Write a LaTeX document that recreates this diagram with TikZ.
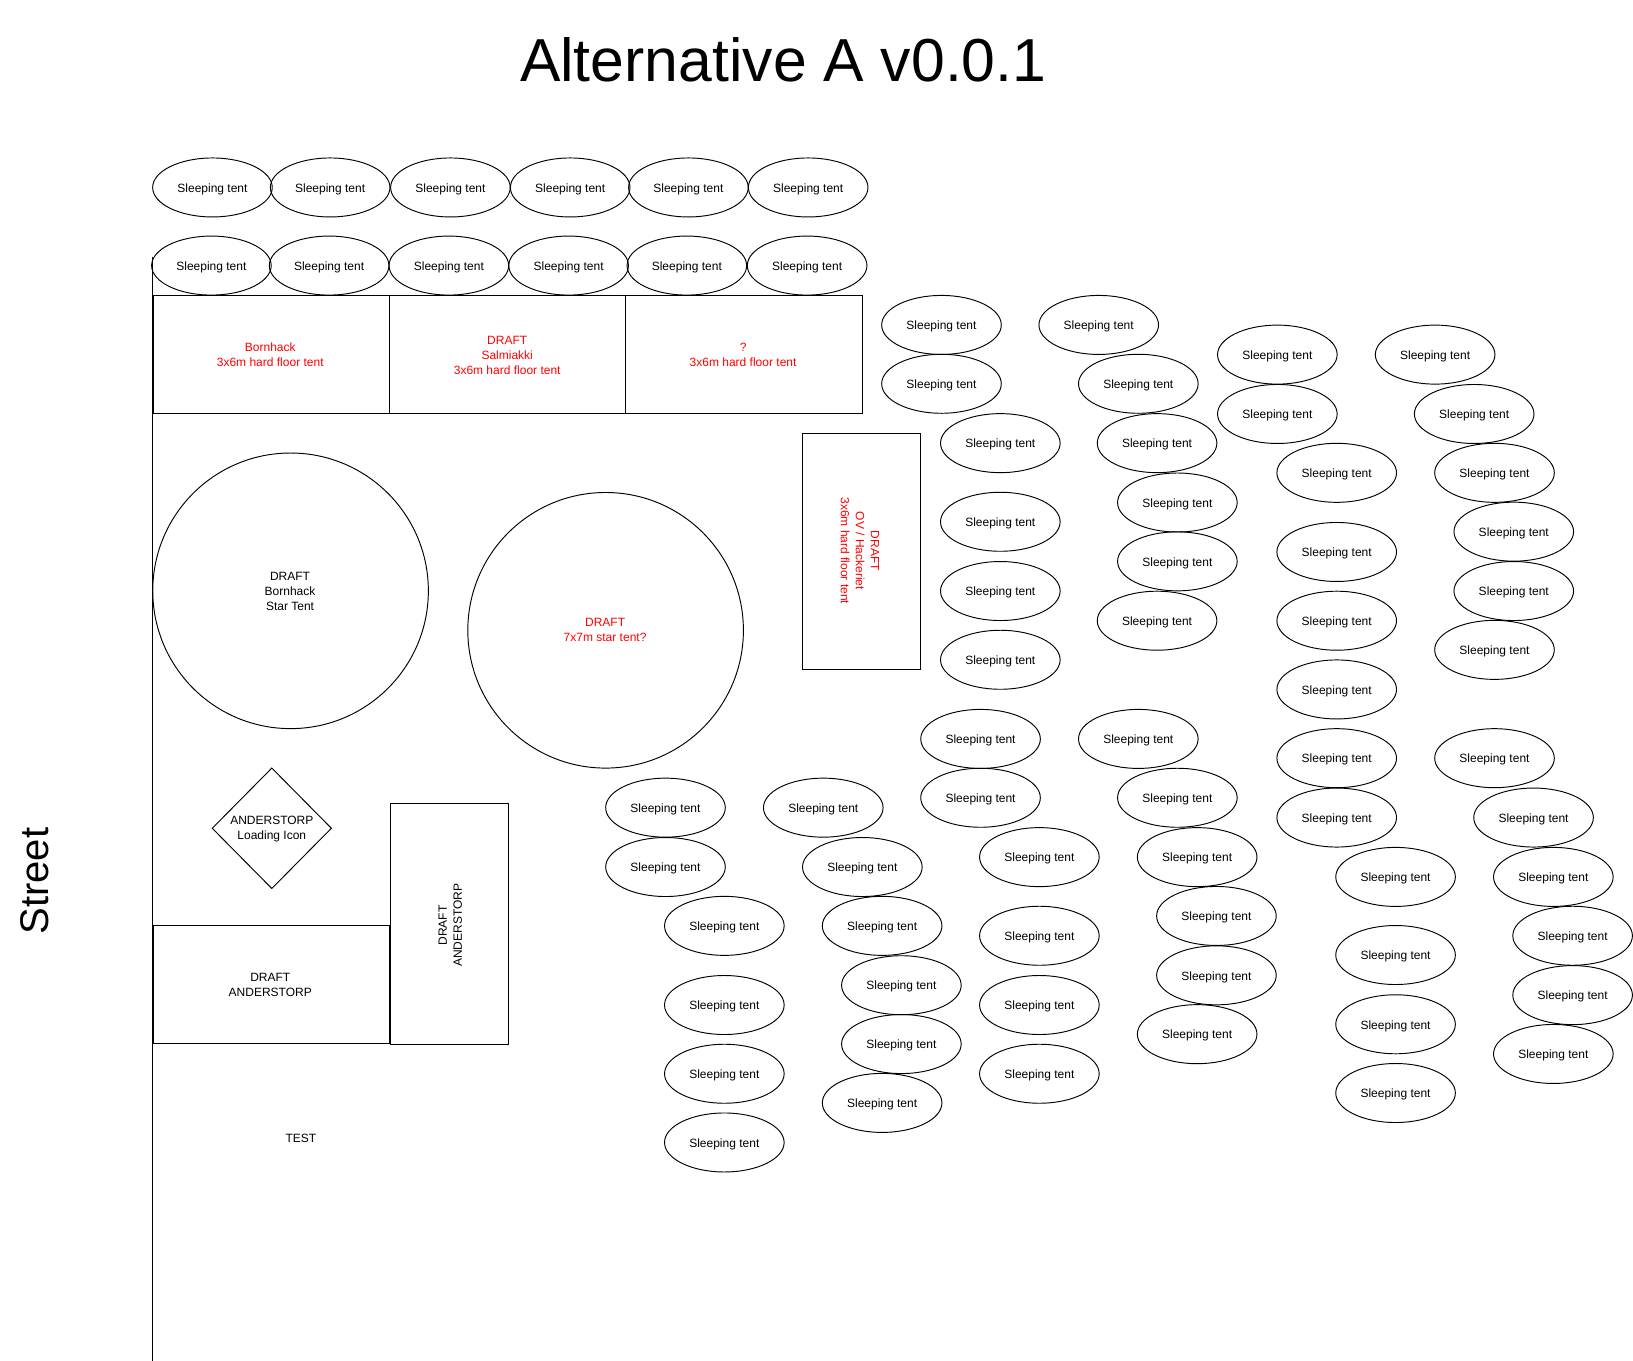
\documentclass[tikz,border=0pt]{standalone}
\usepackage{fontspec}
\setmainfont{Liberation Sans}
\usetikzlibrary{shapes.geometric}
\definecolor{plainred}{RGB}{255,0,0}
\tikzset{
  tent/.style={draw=black,ellipse,inner sep=0pt,minimum width=119.6pt,minimum height=59pt,text height=9.5pt,text depth=0pt,font=\fontsize{12}{15}\selectfont},
  round tent/.style={draw=black,circle,inner sep=0pt,minimum size=275.6pt},
  label/.style={align=center,inner sep=0pt,font=\fontsize{12}{15}\selectfont},
  redlabel/.style={label,text=plainred},
}
\begin{document}
\begin{tikzpicture}[x=1.04145pt,y=-1.04145pt,line width=0.95pt]
\useasboundingbox (0,0) rectangle (1568,1306.8);
\node[inner sep=0pt,font=\fontsize{60.7}{60.7}\selectfont] (title) at (752,57) {Alternative A v0.0.1};
\node[inner sep=0pt,rotate=90,font=\fontsize{40}{40}\selectfont] (street) at (33,846) {Street};
\coordinate (linetop) at (146.5,247);
\coordinate (linebot) at (146.5,1306.8);
\draw (linetop) -- (linebot);
\foreach \x/\y [count=\i] in {
204/180,317/180,432.5/180,547.5/180,661/180,776/180,
203/255,316/255,431/255,546/255,659.5/255,775/255,
904/312,1055/312,904/368.5,1093/368.5,1226.5/340.5,1378/340.5,1226.5/397.5,1415.5/397.5,
960.5/425.5,1111/425.5,1283.5/454,1435/454,1130.5/482.5,1453.5/510.5,960.5/501,1283.5/530,1130.5/539,1453.5/567.5,
960.5/567.5,1283.5/596,1111/596,1435/624,960.5/633.5,1283.5/662,
941.5/709.5,1093/709.5,1283.5/728,1435/728,941.5/766,1130.5/766,1283.5/785,1472.5/785,
639/775.5,790.5/775.5,639/832.5,828/832.5,998/823,1149.5/823,1340/842,1491.5/842,
695.5/889,847/889,1168/879.5,1510/898.5,998/898.5,1340/917,
695.5/965,865.5/946,1168/936.5,1510/955.5,998/965,1340/983.5,
695.5/1031,865.5/1002.5,1149.5/993,1491.5/1012,998/1031,1340/1049.5,
695.5/1097,847/1059}
  \node[tent] (tent\i) at (\x,\y) {Sleeping tent};
% hard floor tents
\draw (147,284) rectangle (374,397);
\draw (374,284) rectangle (601,397);
\draw (601,284) rectangle (827.7,397);
\node[redlabel] (h1) at (259.5,341) {Bornhack\\3x6m hard floor tent};
\node[redlabel] (h2) at (487,341) {DRAFT\\Salmiakki\\3x6m hard floor tent};
\node[redlabel] (h3) at (713.5,341) {?\\3x6m hard floor tent};
% star tents
\node[round tent] (star1) at (279,567.3) {};
\node[round tent] (star2) at (581.5,605.2) {};
\node[label] (star1t) at (278.5,568) {DRAFT\\Bornhack\\Star Tent};
\node[redlabel] (star2t) at (581,605) {DRAFT\\7x7m star tent?};
% OV tent
\draw (771,416.3) rectangle (884,643.3);
\node[redlabel,rotate=-90] (ov) at (825.7,529) {DRAFT\\OV / Hackeriet\\3x6m hard floor tent};
% loading
\node[draw=black,diamond,inner sep=0pt,minimum width=119.5pt,minimum height=120.8pt] (load) at (261,795.3) {};
\node[label] (loadt) at (261,796.3) {ANDERSTORP\\Loading Icon};
% Anderstorp
\draw (147,888.7) rectangle (374,1002.3);
\node[label] (a1) at (259.5,946) {DRAFT\\ANDERSTORP};
\draw (375,771.3) rectangle (488.5,1003.3);
\node[label,rotate=90] (a2) at (432.3,888.5) {DRAFT\\ANDERSTORP};
\node[label] (test) at (289,1093.5) {TEST};
\end{tikzpicture}
\end{document}
